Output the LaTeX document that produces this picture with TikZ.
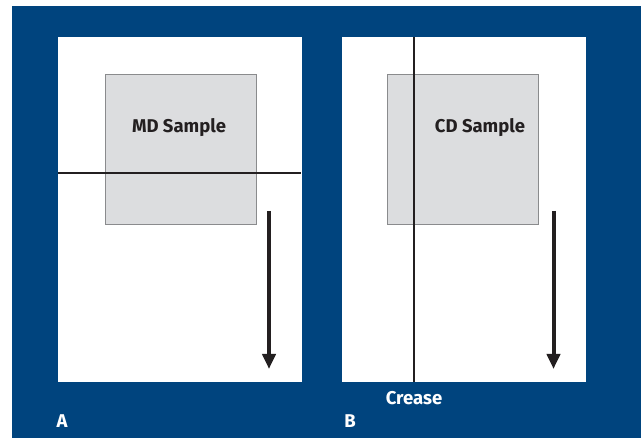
\documentclass[tikz,border=0pt]{standalone}
\usepackage{fontspec}
\setmainfont{Fira Sans}
\usetikzlibrary{arrows.meta}
\definecolor{bgblue}{HTML}{00447E}
\definecolor{sgray}{HTML}{DCDDDF}
\definecolor{sborder}{HTML}{8A8B8D}
\definecolor{ink}{HTML}{231F20}
\tikzset{
  panel/.style={fill=white, draw=none, anchor=north west, minimum width=244pt, minimum height=345pt, inner sep=0pt, outer sep=0pt},
  sample/.style={fill=sgray, draw=sborder, line width=0.8pt, anchor=north west, minimum width=151pt, minimum height=150pt, inner sep=0pt},
  samplelabel/.style={font=\bfseries\fontsize{18.5}{20}\selectfont, text=ink},
  creaseline/.style={draw=ink, line width=2pt},
  mdarrow/.style={draw=ink, line width=4pt, -{Triangle[width=13pt,length=15pt]}},
  whitelabel/.style={font=\bfseries\fontsize{18.5}{20}\selectfont, text=white}
}
\begin{document}
\begin{tikzpicture}[x=1pt,y=-1pt]
\useasboundingbox (0,0) rectangle (641,438);
\fill[white] (0,0) rectangle (641,438);
\fill[bgblue] (12,6) rectangle (641,438);
% panels
\node[panel] (pA) at (58,37) {};
\node[panel] (pB) at (342,37) {};
% samples
\node[sample] (sA) at (104.5,74.5) {};
\node[sample] (sB) at (386.5,74.5) {};
\node[samplelabel] (tA) at (179,128) {MD Sample};
\node[samplelabel] (tB) at (480,128) {CD Sample};
% crease lines
\coordinate (cA1) at (58,172.7);
\coordinate (cA2) at (301,172.7);
\draw[creaseline] (cA1) -- (cA2);
\coordinate (cB1) at (414.3,37);
\coordinate (cB2) at (414.3,382);
\draw[creaseline] (cB1) -- (cB2);
% arrows
\coordinate (aA1) at (269,211);
\coordinate (aA2) at (269,369);
\draw[mdarrow] (aA1) -- (aA2);
\coordinate (aB1) at (553.5,211);
\coordinate (aB2) at (553.5,369);
\draw[mdarrow] (aB1) -- (aB2);
% labels
\node[whitelabel] (crease) at (414,398) {Crease};
\node[whitelabel] (lA) at (62,421) {A};
\node[whitelabel] (lB) at (350,421) {B};
\end{tikzpicture}
\end{document}
